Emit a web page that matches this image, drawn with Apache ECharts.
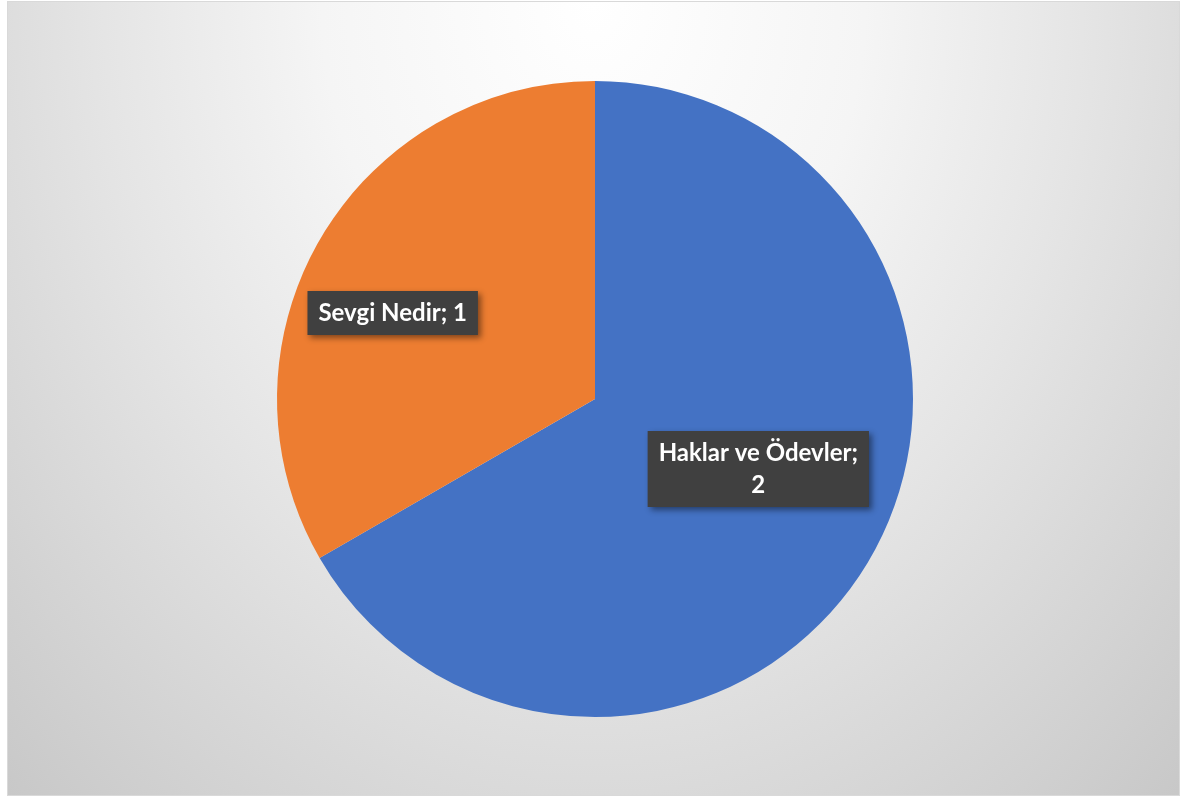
<!DOCTYPE html>
<html>
<head>
<meta charset="utf-8">
<script src="https://cdn.jsdelivr.net/npm/echarts@6/dist/echarts.min.js"></script>
<style>
html,body{margin:0;padding:0;background:#fff;}
#chart{position:absolute;left:7px;top:1px;width:1173px;height:795px;box-sizing:border-box;border:1px solid #d9d9d9;
  background: radial-gradient(ellipse 58% 108% at 50% 0%, #ffffff 0%, #f5f5f5 40%, #e5e5e5 72%, #d6d6d6 100%, #c6c6c6 130%);}
</style>
</head>
<body>
<div id="chart"></div>
<script>
const categories = ['Haklar ve Ödevler', 'Sevgi Nedir'];
const values = [2, 1];
const colors = ['#4472C4', '#ED7D31'];

const chart = echarts.init(document.getElementById('chart'));
chart.setOption({
  backgroundColor: 'transparent',
  series: [{
    type: 'pie',
    center: [587, 397],
    radius: 318,
    startAngle: 90,
    clockwise: true,
    animation: false,
    silent: true,
    itemStyle: {borderWidth: 0},
    label: {
      show: true,
      position: 'inside',
      formatter: '{b}; {c}',
      color: '#ffffff',
      fontFamily: 'Lato',
      fontWeight: 'bold',
      fontSize: 24,
      lineHeight: 32,
      backgroundColor: '#404040',
      padding: [6, 11, 6, 11],
      align: 'center',
      shadowColor: 'rgba(0,0,0,0.45)',
      shadowBlur: 6,
      shadowOffsetX: 3,
      shadowOffsetY: 3
    },
    labelLine: {show: false},
    labelLayout: function (params) {
      return params.dataIndex === 0 ? {dx: 23, dy: -11} : {dx: -62, dy: -5};
    },
    data: categories.map((c, i) => ({
      name: c,
      value: values[i],
      itemStyle: {color: colors[i]},
      label: i === 0 ? {formatter: '{b};\n{c}'} : {}
    }))
  }]
});
</script>
</body>
</html>
